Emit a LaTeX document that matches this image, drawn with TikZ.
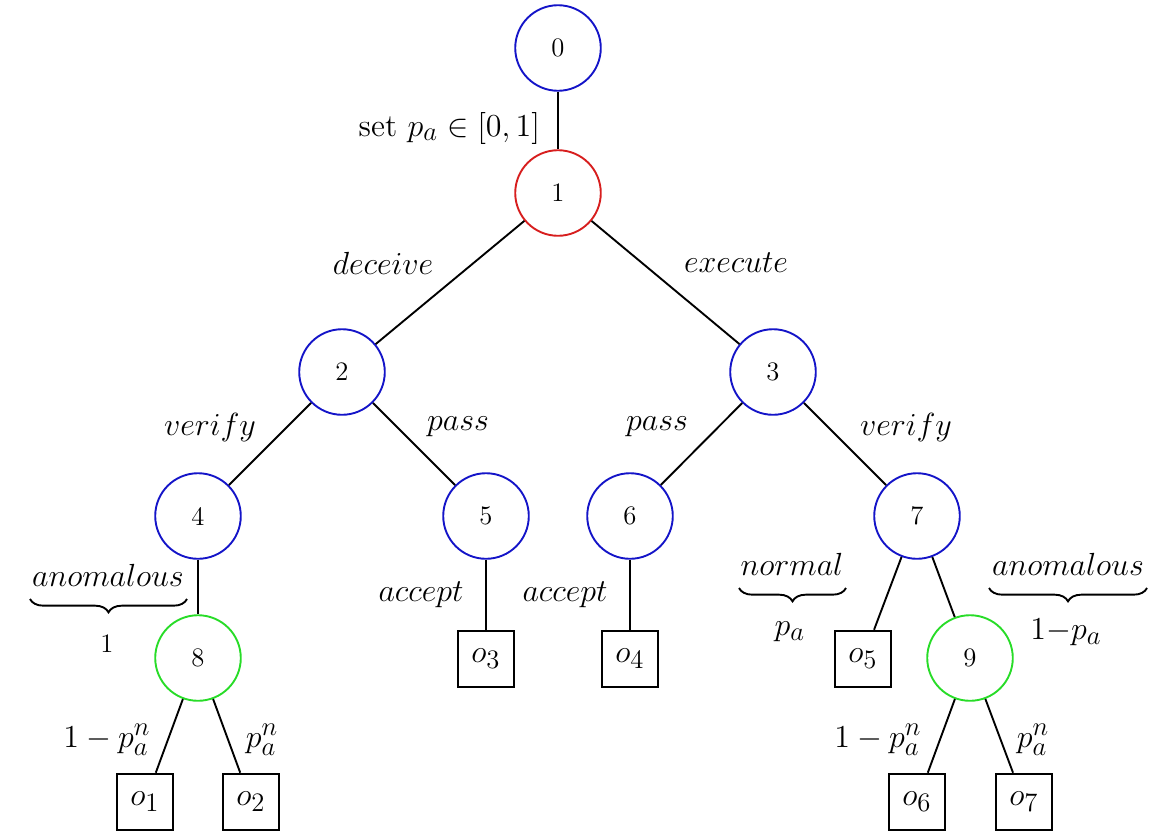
\documentclass[tikz,border=0pt]{standalone}
\usetikzlibrary{decorations.pathreplacing}
\DeclareMathSizes{14.4}{14.4}{12}{10}
\DeclareMathSizes{12}{12}{10}{8}
\definecolor{nblue}{RGB}{20,20,200}
\definecolor{nred}{RGB}{215,30,30}
\definecolor{ngreen}{RGB}{40,220,40}
\begin{document}
\begin{tikzpicture}[x=0.45pt,y=-0.45pt,line width=0.85pt,
  state/.style={circle,draw=nblue,minimum size=38.5pt,inner sep=0pt,font=\large},
  rstate/.style={state,draw=nred},
  gstate/.style={state,draw=ngreen},
  outc/.style={rectangle,draw=black,minimum size=25.5pt,inner sep=0pt,font=\Large},
  lab/.style={font=\Large,inner sep=0pt},
  sublab/.style={font=\large,inner sep=0pt},
  brc/.style={decorate,decoration={brace,amplitude=6pt}}]
\useasboundingbox (0,0) rectangle (1155,838);
% nodes
\node[state]  (n0) at (558,48)  {0};
\node[rstate] (n1) at (558,193) {1};
\node[state]  (n2) at (342,372) {2};
\node[state]  (n3) at (773,372) {3};
\node[state]  (n4) at (198,516) {4};
\node[state]  (n5) at (486,516) {5};
\node[state]  (n6) at (630,516) {6};
\node[state]  (n7) at (917,516) {7};
\node[gstate] (n8) at (198,658) {8};
\node[gstate] (n9) at (970,658) {9};
\node[outc] (o3) at (486,659) {$o_3$};
\node[outc] (o4) at (630,659) {$o_4$};
\node[outc] (o5) at (863,659) {$o_5$};
\node[outc] (o1) at (145,802) {$o_1$};
\node[outc] (o2) at (251,802) {$o_2$};
\node[outc] (o6) at (917,802) {$o_6$};
\node[outc] (o7) at (1024,802) {$o_7$};
% edges
\draw (n0) -- (n1);
\draw (n1) -- (n2);
\draw (n1) -- (n3);
\draw (n2) -- (n4);
\draw (n2) -- (n5);
\draw (n3) -- (n6);
\draw (n3) -- (n7);
\draw (n4) -- (n8);
\draw (n5) -- (o3);
\draw (n6) -- (o4);
\draw (n7) -- (o5);
\draw (n7) -- (n9);
\draw (n8) -- (o1);
\draw (n8) -- (o2);
\draw (n9) -- (o6);
\draw (n9) -- (o7);
% labels
\node[lab,anchor=east] (lset) at (541,128) {set $p_a \in [0,1]$};
\node[lab] (ldec) at (383,263) {$deceive$};
\node[lab] (lexe) at (736,263) {$execute$};
\node[lab] (lver1) at (210,427) {$verify$};
\node[lab] (lpas1) at (458,427) {$pass$};
\node[lab] (lpas2) at (657,427) {$pass$};
\node[lab] (lver2) at (906,427) {$verify$};
\node[lab] (lacc1) at (421,595) {$accept$};
\node[lab] (lacc2) at (565,595) {$accept$};
\node[lab] (lano1) at (108,575) {$anomalous$};
\node[lab] (lnor) at (792,564) {$normal$};
\node[lab] (lano2) at (1068,564) {$anomalous$};
\node[sublab] (s1) at (107,644) {$1$};
\node[lab] (s2) at (790,632) {$p_a$};
\node[lab] (s3) at (1066,632) {$1{-}p_a$};
\node[lab] (q1) at (107,740) {$1-p_a^n$};
\node[lab] (q2) at (262,740) {$p_a^n$};
\node[lab] (q3) at (878,740) {$1-p_a^n$};
\node[lab] (q4) at (1033,740) {$p_a^n$};
% braces
\coordinate (b1r) at (187,599); \coordinate (b1l) at (30,599);
\coordinate (b2r) at (846,588); \coordinate (b2l) at (739,588);
\coordinate (b3r) at (1147,588); \coordinate (b3l) at (989,588);
\draw[brc] (b1r) -- (b1l);
\draw[brc] (b2r) -- (b2l);
\draw[brc] (b3r) -- (b3l);
\end{tikzpicture}
\end{document}
